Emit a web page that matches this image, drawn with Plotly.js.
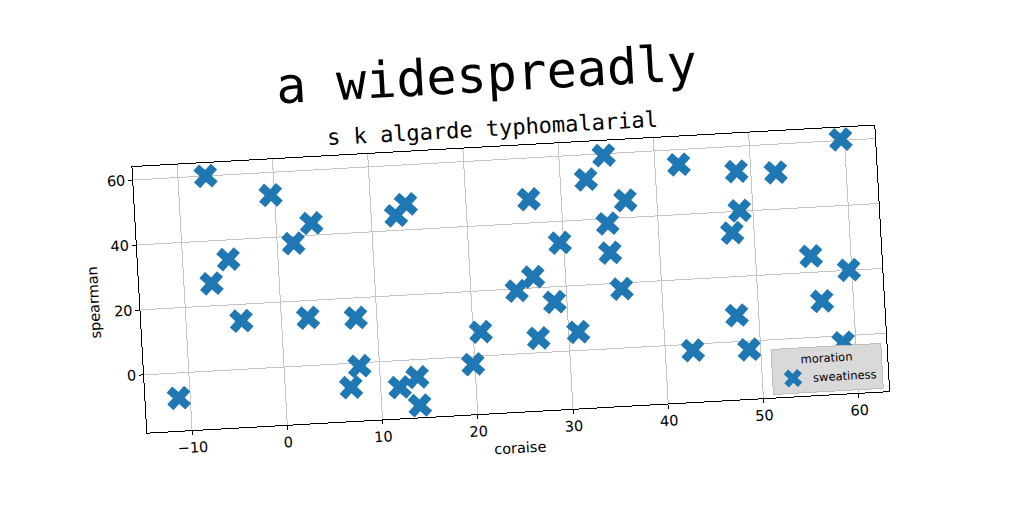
<!DOCTYPE html>
<html>
<head>
<meta charset="utf-8">
<script src="https://cdn.plot.ly/plotly-3.0.1.min.js"></script>
<style>
html,body{margin:0;padding:0;background:#fff;overflow:hidden;width:1024px;height:512px;}
#chart{width:1024px;height:512px;transform:rotate(-3.2deg);transform-origin:512px 256px;}
</style>
</head>
<body>
<div id="chart"></div>
<script>
const chartTitle = "a widespreadly";
const chartSubtitle = "s k algarde typhomalarial";
const xLabel = "coraise";
const yLabel = "spearman";
const legendTitle = "moration";
const seriesName = "sweatiness";

const coraise = [-11.2, -7.1, -7.1, -5.2, -4.2, -0.4, 1.7, 3.7, 2.8, 7.8, 7.9, 6.9, 12.6, 13.7, 12.0, 13.9, 14.0,
  19.8, 20.8, 24.8, 26.6, 26.6, 26.8, 28.7, 29.6, 31.0, 32.7, 34.7, 34.7, 34.8, 35.8, 36.7,
  42.5, 42.9, 47.7, 47.7, 48.5, 48.6, 48.8, 52.6, 55.8, 56.7, 59.6, 58.7, 59.7];
const spearman = [-7.7, 60.0, 26.9, 34.0, 14.9, 53.0, 37.8, 43.7, 14.7, 13.9, -1.0, -7.4, 44.6, 47.9, -8.2, -5.4, -14.1,
  -2.4, 7.4, 19.4, 47.3, 23.4, 4.5, 15.3, 33.4, 5.7, 52.4, 59.5, 38.5, 29.5, 18.2, 45.3,
  55.4, -1.9, 33.5, 8.1, 52.3, 40.2, -2.6, 51.3, 25.0, 11.0, 60.3, -2.1, 20.1];

const trace = {
  type: "scatter", mode: "markers", name: seriesName,
  x: coraise, y: spearman,
  marker: {symbol: "x", size: 21, color: "#1f77b4", line: {width: 0}}
};

const axisCommon = {
  showline: true, linecolor: "#000", linewidth: 1, mirror: true,
  ticks: "outside", ticklen: 4, tickcolor: "#000",
  showgrid: true, gridcolor: "#c4c4c4", gridwidth: 1, zeroline: false,
  tickfont: {family: "DejaVu Sans", size: 14.5, color: "#000"}
};

const layout = {
  width: 1024, height: 512,
  paper_bgcolor: "rgba(0,0,0,0)", plot_bgcolor: "rgba(0,0,0,0)",
  margin: {l: 138, r: 143, t: 146, b: 100},
  title: {text: chartTitle, xref: "container", yref: "container", x: 0.485, y: 1 - 73/512,
          xanchor: "center", yanchor: "middle",
          font: {family: "DejaVu Sans Mono", size: 50, color: "#000"}},
  xaxis: Object.assign({}, axisCommon, {range: [-14.7, 63.2], dtick: 10, tick0: 0,
          title: {text: xLabel, standoff: 6, font: {family: "DejaVu Sans", size: 14.5, color: "#000"}}}),
  yaxis: Object.assign({}, axisCommon, {range: [-17.8, 64.0], dtick: 20, tick0: 0,
          title: {text: yLabel, standoff: 10, font: {family: "DejaVu Sans", size: 14.5, color: "#000"}}}),
  showlegend: true,
  legend: {x: 0.993, xanchor: "right", y: 0.01, yanchor: "bottom",
           bgcolor: "#d9d9d9", bordercolor: "#bdbdbd", borderwidth: 1,
           font: {family: "DejaVu Sans", size: 11.5, color: "#000"},
           title: {text: legendTitle, side: "top center", font: {family: "DejaVu Sans", size: 11.5, color: "#000"}}},
  annotations: [{text: chartSubtitle, xref: "paper", yref: "paper", x: 0.487, y: 1.071,
                 xanchor: "center", yanchor: "middle", showarrow: false,
                 font: {family: "DejaVu Sans Mono", size: 22, color: "#000"}}]
};

Plotly.newPlot("chart", [trace], layout, {displayModeBar: false, staticPlot: true});
</script>
</body>
</html>
